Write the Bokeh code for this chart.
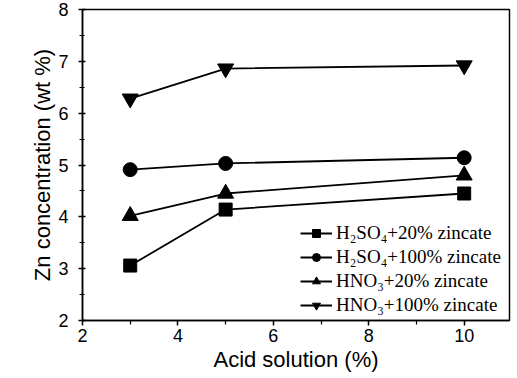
from bokeh.plotting import figure
from bokeh.models import Legend, LegendItem, FixedTicker, Range1d
from bokeh.embed import file_html
from bokeh.resources import INLINE

acid = [3, 5, 10]
h2so4_20 = [3.06, 4.14, 4.45]
h2so4_100 = [4.91, 5.03, 5.14]
hno3_20 = [4.02, 4.45, 4.80]
hno3_100 = [6.28, 6.86, 6.92]
labels = ["H₂SO₄+20% zincate", "H₂SO₄+100% zincate", "HNO₃+20% zincate", "HNO₃+100% zincate"]
x_ticks = [2, 4, 6, 8, 10]
y_ticks = [2, 3, 4, 5, 6, 7, 8]

p = figure(width=517, height=378, output_backend="svg", toolbar_location=None,
           x_range=Range1d(2, 10.95), y_range=Range1d(2, 8),
           min_border_left=82, min_border_right=8, min_border_top=9, min_border_bottom=58)
p.xgrid.visible = False
p.ygrid.visible = False
p.outline_line_color = "black"
p.outline_line_width = 1.5

series = [(h2so4_20, "square", 13), (h2so4_100, "circle", 14), (hno3_20, "triangle", 16), (hno3_100, "inverted_triangle", 16)]
items = []
for (ys, mk, sz), lab in zip(series, labels):
    l = p.line(acid, ys, line_color="black", line_width=1.8)
    m = p.scatter(acid, ys, marker=mk, size=sz, fill_color="black", line_color="black")
    items.append(LegendItem(label=lab, renderers=[l, m]))

legend = Legend(items=items, location=(218, 4), label_text_font="Liberation Serif",
                label_text_font_size="19px", label_text_color="black",
                glyph_width=32, glyph_height=20, label_height=20, spacing=2,
                padding=0, margin=0, background_fill_alpha=0, border_line_alpha=0,
                label_standoff=4)
p.add_layout(legend)

for ax in (p.xaxis[0], p.yaxis[0]):
    ax.axis_line_width = 1.5
    ax.major_tick_line_width = 1.5
    ax.minor_tick_line_width = 1.2
    ax.major_label_text_font = "Liberation Sans"
    ax.major_label_text_font_size = "18px"
    ax.major_label_text_color = "black"
    ax.axis_label_text_font = "Liberation Sans"
    ax.axis_label_text_font_size = "22px"
    ax.axis_label_text_font_style = "normal"
    ax.axis_label_text_color = "black"

p.xaxis.ticker = FixedTicker(ticks=x_ticks, minor_ticks=[3, 5, 7, 9])
p.yaxis.ticker = FixedTicker(ticks=y_ticks, minor_ticks=[2.5, 3.5, 4.5, 5.5, 6.5, 7.5])
p.xaxis.axis_label = "Acid solution (%)"
p.yaxis.axis_label = "Zn concentration (wt %)"
p.xaxis.major_tick_out = 5
p.xaxis.major_tick_in = 0
p.xaxis.minor_tick_out = 4
p.xaxis.minor_tick_in = 0
p.yaxis.major_tick_out = 4
p.yaxis.major_tick_in = 3
p.yaxis.minor_tick_out = 3
p.yaxis.minor_tick_in = 2
p.xaxis.major_label_standoff = 3
p.yaxis.major_label_standoff = 10
p.xaxis.axis_label_standoff = 2
p.yaxis.axis_label_standoff = 0

open("out.html", "w").write(file_html(p, INLINE))
